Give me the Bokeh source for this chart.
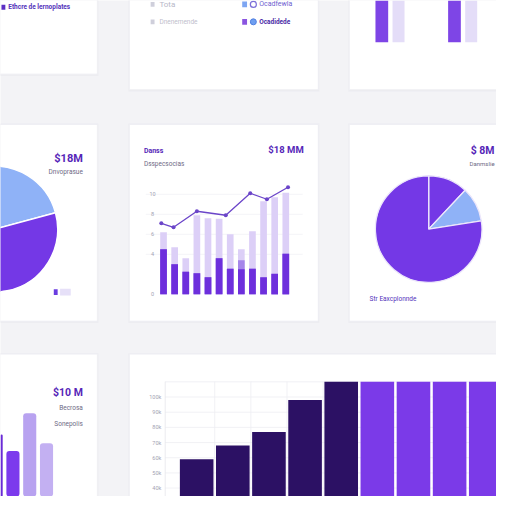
import numpy as np
from bokeh.plotting import figure
from bokeh.models import Range1d
from bokeh.core.properties import value
from bokeh.embed import file_html
from bokeh.resources import INLINE

# ---------------- data ----------------
# centre card: stacked bars with trend line
e_idx = list(range(12))
e_dark = [45, 30, 22.5, 21, 17, 36, 25.5, 25, 25.5, 17, 20.5, 40.5]
e_mid = [45, 30, 22.5, 21, 17, 36, 25.5, 34, 25.5, 17, 20.5, 40.5]
e_light = [62, 47, 36, 79, 76, 75.5, 60, 45, 63, 93, 97, 101.5]
e_trend_x = [-0.2, 0.9, 3.0, 5.6, 7.8, 9.3, 11.2]
e_trend_y = [71, 67, 83, 79, 101, 95, 107]
e_ticks = [0, 40, 60, 80, 100]
e_tick_labels = ["0", "4", "6", "8", "10"]

# bottom wide card: bar chart
h_idx = list(range(9))
h_vals = [59, 68, 77, 98, 116, 121, 118, 124, 127]
h_ticks = [40, 50, 60, 70, 80, 90, 100]
h_tick_labels = ["40k", "50k", "60k", "70k", "80k", "90k", "100k"]
h_grid = [40, 50, 60, 70, 80, 90, 100, 110]
h_max = 110

# pies
f_vals = [12, 10.5, 77.5]
d_vals = [48, 52]

# bottom-left card bars
g_idx = [0, 1, 2, 3]
g_vals = [72, 55, 94, 63]

# top-right card grouped bars
c_idx = [0, 1]
c_a = [62, 70]
c_b = [55, 66]

# ---------------- style ----------------
BG = "#f3f3f6"
CARD = "#ffffff"
PURPLE = "#7438e6"
BLUE = "#8fb2f7"
DARK = "#2c1164"
HEAD = "#5626b8"
SUB = "#6e6a85"
FONT = value("Roboto")

p = figure(width=496, height=496, output_backend="svg", toolbar_location=None,
           x_range=Range1d(0, 512), y_range=Range1d(512, 0), min_border=0,
           x_axis_location=None, y_axis_location=None)
p.grid.visible = False
p.outline_line_color = None
p.background_fill_color = BG
p.border_fill_color = BG


def lin_range(r0, v0, r1, v1, lo, hi):
    k = (v1 - v0) / (r1 - r0)
    return Range1d(start=v0 + (lo - r0) * k, end=v0 + (hi - r0) * k)


p.extra_x_ranges = {
    "ex": lin_range(168.3, 0, 294.5, 11, 0, 512),
    "hx": lin_range(202.5, 0, 500.9, 8, 0, 512),
    "gx": lin_range(-4.5, 0, 47.5, 3, 0, 512),
    "cx": lin_range(402.25, 0, 477.25, 1, 0, 512),
}
p.extra_y_ranges = {
    "ey": lin_range(303.3, 0, 200, 100, 512, 0),
    "hy": lin_range(409.3, 100, 503.3, 40, 512, 0),
    "gy": lin_range(520, 0, 420, 100, 512, 0),
    "cy": lin_range(43, 0, -57, 100, 512, 0),
}

# ---------------- cards ----------------
cl = [-5, 133, 360, -5, 133, 360, -5, 133]
cr = [100, 328, 520, 100, 328, 520, 100, 520]
ct = [-5, -5, -5, 128, 128, 128, 365, 365]
cb = [76, 92, 92, 331, 331, 331, 520, 520]
p.quad(left=[v - 1 for v in cl], right=[v + 1 for v in cr],
       top=[v - 1 for v in ct], bottom=[v + 2 for v in cb],
       fill_color="#e9e9ef", fill_alpha=0.6, line_color=None)
p.quad(left=cl, right=cr, top=ct, bottom=cb, fill_color=CARD, line_color="#eeeef3", line_width=0.8)

# ---------------- top-left card ----------------
p.rect(x=[3], y=[7], width=4, height=5, fill_color="#5b2fc4", line_color=None)
p.text(x=[8], y=[7], text=["Ethcre de lernoplates"], text_font=FONT, text_font_size="6.5px",
       text_color="#5533bb", text_baseline="middle", text_font_style="bold")

# ---------------- top-middle card: legend ----------------
p.rect(x=[157, 157], y=[4, 22], width=4, height=5, fill_color="#cfcfdb", line_color=None)
p.text(x=[164], y=[4], text=["Tota"], text_font=FONT, text_font_size="8px",
       text_color="#b8b8c8", text_baseline="middle")
p.text(x=[164], y=[22], text=["Dnenemende"], text_font=FONT, text_font_size="6.5px",
       text_color="#c0c0cc", text_baseline="middle")
p.rect(x=[252], y=[4], width=5, height=6, fill_color="#7ea6f2", line_color=None)
p.scatter(x=[261], y=[4], size=6, marker="circle", fill_color=None, line_color="#7c6fd8", line_width=1.2)
p.text(x=[267], y=[4], text=["Ocadfewla"], text_font=FONT, text_font_size="7px",
       text_color="#6d5fcf", text_baseline="middle")
p.rect(x=[252], y=[22], width=5, height=6, fill_color="#8a55e0", line_color=None)
p.scatter(x=[261], y=[22], size=6, marker="circle", fill_color="#6f9ff0", line_color="#4f7fe0", line_width=1)
p.text(x=[267], y=[22], text=["Ocadidede"], text_font=FONT, text_font_size="6.5px",
       text_color="#4a2aa6", text_baseline="middle", text_font_style="bold")

# ---------------- top-right card: grouped bars ----------------
p.vbar(x=[i - 0.115 for i in c_idx], top=c_a, bottom=0, width=0.175,
       fill_color="#7e45e6", line_color=None, x_range_name="cx", y_range_name="cy")
p.vbar(x=[i + 0.115 for i in c_idx], top=c_b, bottom=0, width=0.165,
       fill_color="#e4ddf8", line_color=None, x_range_name="cx", y_range_name="cy")

# ---------------- middle-left card: pie ----------------
d_ang = np.deg2rad(15 + np.concatenate([[0], np.cumsum(d_vals)]) / sum(d_vals) * 360)
p.wedge(x=-6, y=236, radius=65, start_angle=d_ang[:-1], end_angle=d_ang[1:],
        fill_color=[BLUE, PURPLE], line_color="white", line_width=1.5, direction="anticlock")
p.text(x=[85], y=[163], text=["$18M"], text_font=FONT, text_font_size="11px",
       text_color=HEAD, text_align="right", text_baseline="middle", text_font_style="bold")
p.text(x=[85], y=[177], text=["Dnvoprasue"], text_font=FONT, text_font_size="6.5px",
       text_color=SUB, text_align="right", text_baseline="middle")
p.rect(x=[57], y=[301], width=4, height=6, fill_color="#6a3de0", line_color=None)
p.rect(x=[67], y=[301], width=11, height=7, fill_color="#e6e0f8", line_color=None)

# ---------------- middle card: stacked bars + line ----------------
p.segment(x0=150, x1=312, y0=e_ticks[1:], y1=e_ticks[1:], line_color="#f1f1f5",
          line_width=0.8, y_range_name="ey")
p.text(x=[157] * len(e_ticks), y=e_ticks, text=e_tick_labels, text_font=FONT, text_font_size="5.5px",
       text_color="#a3a3b3", text_align="center", text_baseline="middle", y_range_name="ey")
p.vbar(x=e_idx, top=e_light, bottom=0, width=0.6, fill_color="#dccff7", line_color=None,
       x_range_name="ex", y_range_name="ey")
p.vbar(x=e_idx, top=e_mid, bottom=0, width=0.6, fill_color="#a585ea", line_color=None,
       x_range_name="ex", y_range_name="ey")
p.vbar(x=e_idx, top=e_dark, bottom=0, width=0.6, fill_color="#6d2fdc", line_color=None,
       x_range_name="ex", y_range_name="ey")
p.line(x=e_trend_x, y=e_trend_y, line_color="#6b45c9", line_width=1.3,
       x_range_name="ex", y_range_name="ey")
p.scatter(x=e_trend_x, y=e_trend_y, size=4, fill_color="#6b45c9", line_color=None,
          x_range_name="ex", y_range_name="ey")
p.text(x=[148], y=[155], text=["Danss"], text_font=FONT, text_font_size="7px",
       text_color=HEAD, text_baseline="middle", text_font_style="bold")
p.text(x=[148], y=[169], text=["Dsspecsocias"], text_font=FONT, text_font_size="6.5px",
       text_color=SUB, text_baseline="middle")
p.text(x=[313], y=[154], text=["$18 MM"], text_font=FONT, text_font_size="9.5px",
       text_color=HEAD, text_align="right", text_baseline="middle", text_font_style="bold")

# ---------------- middle-right card: pie ----------------
f_ang = np.deg2rad(90 - np.concatenate([[0], np.cumsum(f_vals)]) / sum(f_vals) * 360)
p.wedge(x=442, y=236, radius=55, start_angle=f_ang[:-1], end_angle=f_ang[1:],
        fill_color=[PURPLE, BLUE, PURPLE], line_color="#ece6fb", line_width=1.3, direction="clock")
p.text(x=[510], y=[155], text=["$ 8M"], text_font=FONT, text_font_size="10.5px",
       text_color=HEAD, text_align="right", text_baseline="middle", text_font_style="bold")
p.text(x=[510], y=[168], text=["Danmslie"], text_font=FONT, text_font_size="6px",
       text_color=SUB, text_align="right", text_baseline="middle")
p.text(x=[381], y=[308], text=["Str Eaxcplonnde"], text_font=FONT, text_font_size="6.5px",
       text_color="#5533bb", text_baseline="middle")

# ---------------- bottom-left card: bars ----------------
p.vbar(x=g_idx, top=g_vals, bottom=0, width=0.78, border_radius=3,
       fill_color=["#6a2bd6", "#7c3aed", "#b8a2f0", "#c3b0f2"], line_color=None,
       x_range_name="gx", y_range_name="gy")
p.text(x=[85], y=[405], text=["$10 M"], text_font=FONT, text_font_size="10.5px",
       text_color=HEAD, text_align="right", text_baseline="middle", text_font_style="bold")
p.text(x=[85], y=[421], text=["Becrosa"], text_font=FONT, text_font_size="6.5px",
       text_color=SUB, text_align="right", text_baseline="middle")
p.text(x=[85], y=[437], text=["Sonepolis"], text_font=FONT, text_font_size="6.5px",
       text_color=SUB, text_align="right", text_baseline="middle")

# ---------------- bottom wide card: bar chart ----------------
p.segment(x0=170, x1=520, y0=h_grid, y1=h_grid, line_color="#ededf2", line_width=0.8,
          y_range_name="hy")
p.segment(x0=[i + 0.5 for i in h_idx[:4]], x1=[i + 0.5 for i in h_idx[:4]], y0=393.5, y1=520,
          line_color="#ededf2", line_width=0.8, x_range_name="hx")
p.segment(x0=[170], x1=[170], y0=[393.5], y1=[520], line_color="#e6e6ec", line_width=0.8)
p.text(x=[166] * len(h_ticks), y=h_ticks, text=h_tick_labels, text_font=FONT, text_font_size="5.5px",
       text_color="#a3a3b3", text_align="right", text_baseline="middle", y_range_name="hy")
h_top = np.minimum(h_vals, h_max)
h_colors = [DARK] * 5 + ["#7b3ae8"] * 4
p.vbar(x=h_idx, top=h_top, bottom=0, width=0.93, fill_color=h_colors, line_color=None,
       x_range_name="hx", y_range_name="hy")

open("out.html", "w").write(file_html(p, INLINE))
